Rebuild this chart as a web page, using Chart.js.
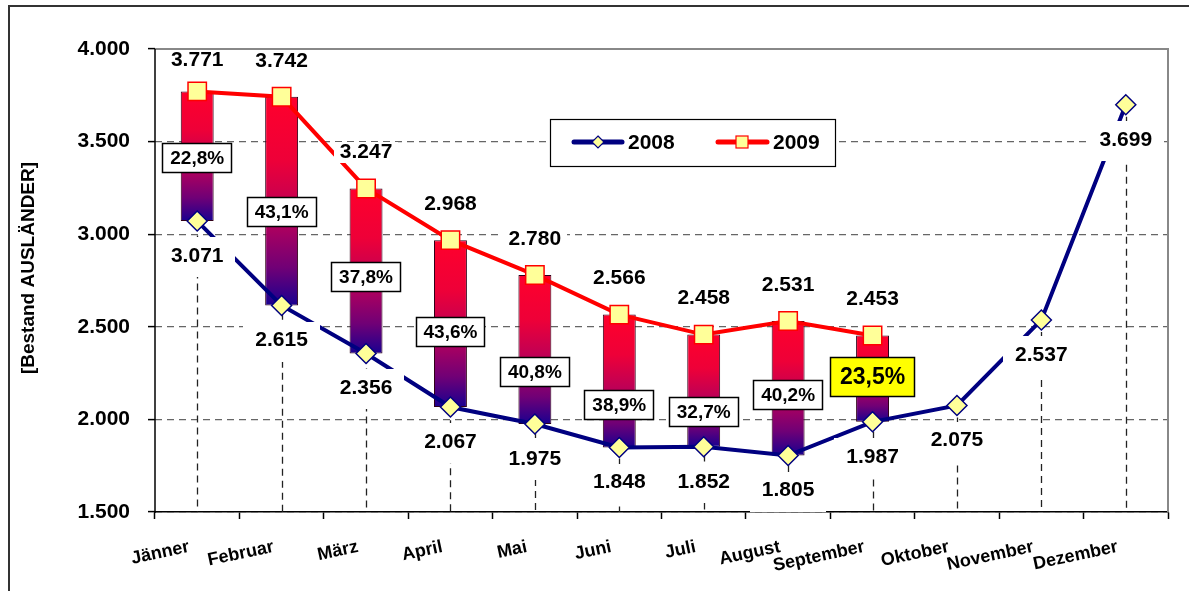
<!DOCTYPE html>
<html lang="de">
<head>
<meta charset="UTF-8">
<title>Bestand Ausländer 2008 / 2009</title>
<script src="https://cdn.jsdelivr.net/npm/chart.js"></script>
<style>
  html, body { margin: 0; padding: 0; background: #fff; }
</style>
</head>
<body>
<canvas id="myChart" width="1189" height="591"></canvas>
<script>
const months = ['Jänner', 'Februar', 'März', 'April', 'Mai', 'Juni', 'Juli', 'August', 'September', 'Oktober', 'November', 'Dezember'];
const values2008 = [3071, 2615, 2356, 2067, 1975, 1848, 1852, 1805, 1987, 2075, 2537, 3699];
const values2009 = [3771, 3742, 3247, 2968, 2780, 2566, 2458, 2531, 2453, null, null, null];
const yTicks = [1500, 2000, 2500, 3000, 3500, 4000];
const legendLabels = ['2008', '2009'];
const yTitle = '[Bestand AUSLÄNDER]';

const FONT = '"Liberation Sans", Arial, sans-serif';

// value on the y axis where each percent box is centred
const pctAnchor = [3412, 3120, 2769, 2472, 2256, 2078, 2040, 2132, 2229];
const highlightIndex = 8;

function fmt(v) {
    return String(v).replace(/\B(?=(\d{3})+(?!\d))/g, '.');
}
function pct(i) {
    return ((values2009[i] - values2008[i]) / values2008[i] * 100).toFixed(1).replace('.', ',') + '%';
}

const ranges = values2009.map((v, i) => v == null ? null : [values2008[i], v]);

function barGradient(c) {
    const chart = c.chart;
    if (!chart.chartArea || c.type !== 'data' || !c.raw) return '#e00040';
    const y = chart.scales.y;
    const top = y.getPixelForValue(c.raw[1]);
    const bot = y.getPixelForValue(c.raw[0]);
    const g = chart.ctx.createLinearGradient(0, top, 0, bot);
    g.addColorStop(0, '#ff002c');
    g.addColorStop(0.3, '#ee0038');
    g.addColorStop(0.6, '#b4005c');
    g.addColorStop(0.82, '#700076');
    g.addColorStop(1, '#1a0090');
    return g;
}

function boxedText(ctx, text, cx, cy, font, padX, up, down, fill, border) {
    ctx.font = font;
    const w = ctx.measureText(text).width;
    const x0 = Math.round(cx - w / 2 - padX), x1 = Math.round(cx + w / 2 + padX);
    const y0 = Math.round(cy - up), y1 = Math.round(cy + down);
    ctx.fillStyle = fill;
    ctx.fillRect(x0, y0, x1 - x0, y1 - y0);
    if (border) {
        ctx.strokeStyle = border;
        ctx.lineWidth = 1.5;
        ctx.setLineDash([]);
        ctx.strokeRect(x0 + 0.5, y0 + 0.5, x1 - x0 - 1, y1 - y0 - 1);
    }
    ctx.fillStyle = '#000';
    ctx.textAlign = 'center';
    ctx.textBaseline = 'middle';
    ctx.fillText(text, cx, cy + 1);
}

const extras = {
    id: 'extras',
    beforeDatasetsDraw(chart) {
        const { ctx, chartArea, scales: { x, y } } = chart;
        ctx.save();
        ctx.strokeStyle = '#222';
        ctx.lineWidth = 1.3;
        ctx.setLineDash([7, 5]);
        months.forEach((m, i) => {
            const top = Math.max(values2008[i], values2009[i] == null ? -Infinity : values2009[i]);
            const px = Math.round(x.getPixelForValue(i)) + 0.5;
            ctx.beginPath();
            ctx.moveTo(px, y.getPixelForValue(top));
            ctx.lineTo(px, chartArea.bottom);
            ctx.stroke();
        });
        ctx.restore();
    },
    afterDatasetsDraw(chart) {
        const { ctx, chartArea, scales: { x, y } } = chart;
        ctx.save();
        const valFont = 'bold 21px ' + FONT;
        values2008.forEach((v, i) => {
            const px = x.getPixelForValue(i), py = y.getPixelForValue(v);
            boxedText(ctx, fmt(v), px, py + 34, valFont, 12, 18, 22, '#fff', null);
        });
        values2009.forEach((v, i) => {
            if (v == null) return;
            const px = x.getPixelForValue(i), py = y.getPixelForValue(v);
            // keep the label inside the plot area, as the original does
            const cy = Math.max(py - 37, chartArea.top + 10);
            boxedText(ctx, fmt(v), px, cy, valFont, 6, 9, 12, '#fff', null);
        });
        pctAnchor.forEach((a, i) => {
            const px = x.getPixelForValue(i), py = y.getPixelForValue(a);
            if (i === highlightIndex) {
                boxedText(ctx, pct(i), px, py, 'bold 23px ' + FONT, 10, 20, 20, '#ffff00', '#000');
            } else {
                boxedText(ctx, pct(i), px, py, 'bold 19px ' + FONT, 8, 15, 15, '#fff', '#000');
            }
        });
        ctx.restore();
    },
    afterDraw(chart) {
        const { ctx, chartArea: ca, scales: { x } } = chart;
        ctx.save();
        ctx.setLineDash([]);
        // outer frame
        ctx.strokeStyle = '#333';
        ctx.lineWidth = 2;
        ctx.strokeRect(9, 6, 1200, 600);
        // plot area border (top / right)
        ctx.strokeStyle = '#888';
        ctx.lineWidth = 2;
        ctx.beginPath();
        ctx.moveTo(ca.left, ca.top);
        ctx.lineTo(ca.right, ca.top);
        ctx.lineTo(ca.right, ca.bottom);
        ctx.stroke();
        // value axis line
        ctx.strokeStyle = '#000';
        ctx.lineWidth = 1.5;
        ctx.beginPath();
        ctx.moveTo(ca.left, ca.top);
        ctx.lineTo(ca.left, ca.bottom + 1);
        ctx.stroke();

        // month labels, slanted, right end a little left of the category centre
        ctx.font = 'bold 18px ' + FONT;
        ctx.fillStyle = '#000';
        ctx.textAlign = 'right';
        ctx.textBaseline = 'top';
        months.forEach((m, i) => {
            ctx.save();
            ctx.translate(x.getPixelForValue(i) - 10, ca.bottom + 26);
            ctx.rotate(-12 * Math.PI / 180);
            ctx.fillText(m, 0, 0);
            ctx.restore();
        });

        // y title
        ctx.save();
        ctx.translate(29, 268);
        ctx.rotate(-Math.PI / 2);
        ctx.font = 'bold 19px ' + FONT;
        ctx.fillStyle = '#000';
        ctx.textAlign = 'center';
        ctx.textBaseline = 'middle';
        ctx.fillText(yTitle, 0, 0);
        ctx.restore();

        // legend
        ctx.fillStyle = '#fff';
        ctx.fillRect(550, 119, 286, 48);
        ctx.strokeStyle = '#000';
        ctx.lineWidth = 1.2;
        ctx.strokeRect(550.5, 119.5, 285, 47);
        ctx.lineCap = 'round';
        ctx.lineWidth = 5;
        ctx.strokeStyle = '#000080';
        ctx.beginPath(); ctx.moveTo(574, 142); ctx.lineTo(622, 142); ctx.stroke();
        ctx.strokeStyle = '#ff0000';
        ctx.beginPath(); ctx.moveTo(718, 142); ctx.lineTo(767, 142); ctx.stroke();
        ctx.lineCap = 'butt';
        ctx.lineWidth = 1.2;
        ctx.fillStyle = '#ffff99';
        ctx.strokeStyle = '#000080';
        ctx.beginPath();
        ctx.moveTo(598, 136); ctx.lineTo(604, 142); ctx.lineTo(598, 148); ctx.lineTo(592, 142); ctx.closePath();
        ctx.fill(); ctx.stroke();
        ctx.strokeStyle = '#ff0000';
        ctx.fillRect(736, 136, 12, 12);
        ctx.strokeRect(736, 136, 12, 12);
        ctx.font = 'bold 21px ' + FONT;
        ctx.fillStyle = '#000';
        ctx.textAlign = 'left';
        ctx.textBaseline = 'middle';
        ctx.fillText(legendLabels[0], 628, 143);
        ctx.fillText(legendLabels[1], 773, 143);
        ctx.restore();
    }
};

const ctx = document.getElementById('myChart').getContext('2d');
const myChart = new Chart(ctx, {
    type: 'bar',
    data: {
        labels: months,
        datasets: [{
            label: 'Differenz',
            data: ranges,
            backgroundColor: barGradient,
            borderColor: '#300018',
            borderWidth: 1,
            borderSkipped: false,
            barPercentage: 0.39,
            categoryPercentage: 1,
            order: 3
        }, {
            type: 'line',
            label: legendLabels[0],
            data: values2008,
            borderColor: '#000080',
            borderWidth: 4,
            tension: 0,
            pointStyle: 'rectRot',
            pointRadius: 10,
            pointBackgroundColor: '#ffff99',
            pointBorderColor: '#000080',
            pointBorderWidth: 1.5,
            order: 2
        }, {
            type: 'line',
            label: legendLabels[1],
            data: values2009,
            borderColor: '#ff0000',
            borderWidth: 4,
            tension: 0,
            pointStyle: 'rect',
            pointRadius: 13,
            pointBackgroundColor: '#ffff99',
            pointBorderColor: '#ff0000',
            pointBorderWidth: 1.5,
            order: 1
        }]
    },
    options: {
        responsive: false,
        animation: false,
        layout: { padding: { top: 49, right: 21, left: 0, bottom: 0 } },
        plugins: {
            legend: { display: false },
            tooltip: { enabled: false }
        },
        scales: {
            x: {
                offset: true,
                grid: {
                    offset: true,
                    drawOnChartArea: false,
                    drawTicks: true,
                    tickLength: 7,
                    color: '#000',
                    tickColor: '#000',
                    tickWidth: 1.5
                },
                border: { color: '#000', width: 1.5 },
                ticks: { display: false },
                afterFit(s) { s.height = 79; }
            },
            y: {
                min: 1500,
                max: 4000,
                afterBuildTicks(s) { s.ticks = yTicks.map(v => ({ value: v })); },
                grid: {
                    color: '#666',
                    lineWidth: 1.2,
                    tickLength: 7,
                    tickColor: '#000',
                    tickWidth: 1.5,
                    tickBorderDash: []
                },
                border: { display: false, dash: [7, 5] },
                ticks: {
                    font: { family: FONT, size: 21, weight: 'bold' },
                    color: '#000',
                    padding: 18,
                    callback: v => fmt(v)
                },
                afterFit(s) { s.width = 155; }
            }
        }
    },
    plugins: [extras]
});
</script>
</body>
</html>
